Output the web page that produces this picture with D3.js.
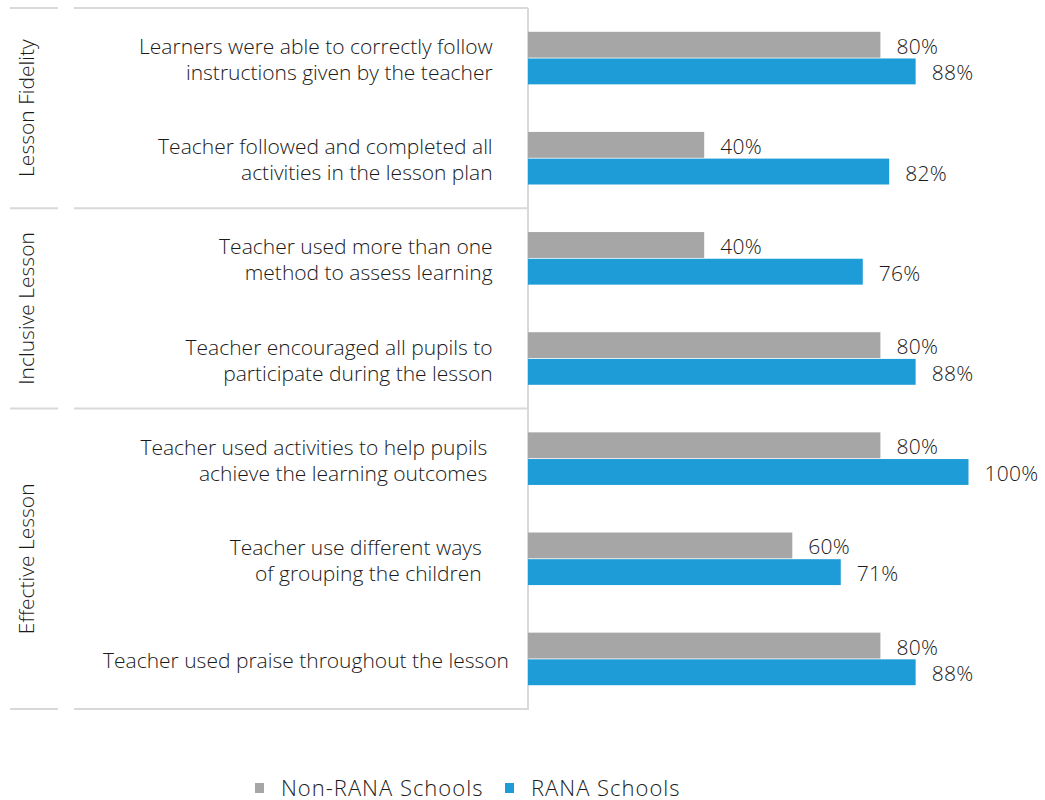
<!DOCTYPE html>
<html>
<head>
<meta charset="utf-8">
<script src="https://cdn.jsdelivr.net/npm/d3@7"></script>
<style>
  html, body { margin: 0; padding: 0; background: #fff; }
  svg text { font-family: "Open Sans", Roboto, "Liberation Sans", sans-serif; font-weight: 300; fill: #1a1a1a; white-space: pre; }
</style>
</head>
<body>
<svg id="chart" width="1045" height="800"></svg>
<script>
// Classroom observation indicators, grouped by lesson dimension
const categories = [
  ["Learners were able to correctly follow   ", "instructions given by the teacher   "],
  ["Teacher followed and completed all   ", "activities in the lesson plan   "],
  ["Teacher used more than one   ", "method to assess learning   "],
  ["Teacher encouraged all pupils to   ", "participate during the lesson   "],
  ["Teacher used activities to help pupils    ", "achieve the learning outcomes    "],
  ["Teacher use different ways     ", "of grouping the children     "],
  ["Teacher used praise throughout the lesson"]
];
const groups = ["Lesson Fidelity", "Inclusive Lesson", "Effective Lesson"];
const groupOfCategory = [0, 0, 1, 1, 2, 2, 2];
const seriesNames = ["Non-RANA Schools", "RANA Schools"];
const nonRanaValues = [80, 40, 40, 80, 80, 60, 80];
const ranaValues = [88, 82, 76, 88, 100, 71, 88];
const seriesColors = ["#a6a6a6", "#1e9cd7"];

const svg = d3.select("#chart");
const plotTop = 8, plotBottom = 709, axisX = 528;

const y = d3.scaleBand()
  .domain(d3.range(categories.length))
  .range([plotTop, plotBottom])
  .paddingInner(0.475)
  .paddingOuter(0.2375);

const ySub = d3.scaleBand()
  .domain(d3.range(seriesNames.length))
  .range([0, y.bandwidth()])
  .paddingInner(0.03);

const x = d3.scaleLinear().domain([0, 100]).range([axisX, 968.5]);

const gridColor = "#d9d9d9";

// group separators (left stub + long rule) at each group boundary
const boundaries = [0];
groups.forEach((g, gi) => {
  const last = groupOfCategory.lastIndexOf(gi);
  boundaries.push(last + 1);
});
const boundaryY = i => plotTop + i * y.step();

svg.append("g").selectAll("line")
  .data(boundaries)
  .join("line")
  .attr("x1", 10).attr("x2", 58)
  .attr("y1", d => boundaryY(d)).attr("y2", d => boundaryY(d))
  .attr("stroke", gridColor).attr("stroke-width", 2);

svg.append("g").selectAll("line")
  .data(boundaries)
  .join("line")
  .attr("x1", 74).attr("x2", axisX)
  .attr("y1", d => boundaryY(d)).attr("y2", d => boundaryY(d))
  .attr("stroke", gridColor).attr("stroke-width", 2);

// vertical category axis line
svg.append("line")
  .attr("x1", axisX).attr("x2", axisX)
  .attr("y1", plotTop).attr("y2", plotBottom + 1)
  .attr("stroke", gridColor).attr("stroke-width", 2);

// rotated group titles
svg.append("g").selectAll("text")
  .data(groups)
  .join("text")
  .attr("transform", (g, gi) => {
    const first = groupOfCategory.indexOf(gi);
    const last = groupOfCategory.lastIndexOf(gi);
    const cy = (boundaryY(first) + boundaryY(last + 1)) / 2;
    return `translate(26,${cy}) rotate(-90)`;
  })
  .attr("text-anchor", "middle")
  .attr("dominant-baseline", "central")
  .style("font-size", "21px")
  .text(d => d);

// category labels
const lineH = 26;
const catLabels = svg.append("g").selectAll("text")
  .data(categories)
  .join("text")
  .attr("text-anchor", "end")
  .style("font-size", "21px");

catLabels.each(function(lines, i) {
  const cy = y(i) + y.bandwidth() / 2 + 1;
  d3.select(this).selectAll("tspan")
    .data(lines)
    .join("tspan")
    .attr("x", 509)
    .attr("y", (l, k) => cy + (k - (lines.length - 1) / 2) * lineH)
    .attr("dominant-baseline", "central")
    .text(l => l);
});

// bars
const seriesData = [nonRanaValues, ranaValues];
const rows = categories.map((c, i) => ({ i, values: seriesData.map(s => s[i]) }));

const rowG = svg.append("g").selectAll("g")
  .data(rows)
  .join("g")
  .attr("transform", d => `translate(0,${y(d.i)})`);

rowG.selectAll("rect")
  .data(d => d.values.map((v, s) => ({ v, s })))
  .join("rect")
  .attr("x", x(0))
  .attr("y", d => ySub(d.s))
  .attr("width", d => x(d.v) - x(0))
  .attr("height", ySub.bandwidth())
  .attr("fill", d => seriesColors[d.s]);

rowG.selectAll("text")
  .data(d => d.values.map((v, s) => ({ v, s })))
  .join("text")
  .attr("x", d => x(d.v) + 16)
  .attr("y", d => ySub(d.s) + ySub.bandwidth() / 2 + 1)
  .attr("dominant-baseline", "central")
  .style("font-size", "21px")
  .style("letter-spacing", "0.3px")
  .text(d => d.v + "%");

// legend
const legendX = [255, 505];
const legend = svg.append("g").selectAll("g")
  .data(seriesNames)
  .join("g")
  .attr("transform", (d, i) => `translate(${legendX[i]},788)`);
legend.append("rect")
  .attr("x", 0).attr("y", -5).attr("width", 9).attr("height", 10)
  .attr("fill", (d, i) => seriesColors[i]);
legend.append("text")
  .attr("x", 26).attr("y", 7.5)
  .style("font-size", "22px")
  .style("letter-spacing", "1px")
  .text(d => d);
</script>
</body>
</html>
